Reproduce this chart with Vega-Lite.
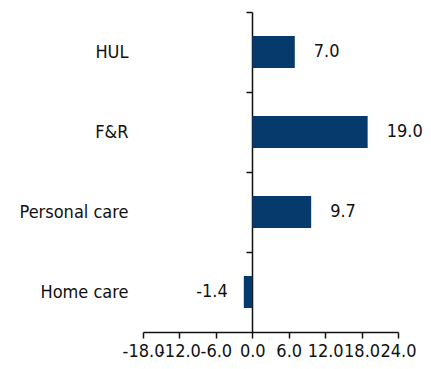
{
  "$schema": "https://vega.github.io/schema/vega-lite/v6.json",
  "width": 255,
  "height": 320,
  "autosize": "none",
  "padding": {"left": 143, "top": 12, "right": 33, "bottom": 37},
  "background": "white",
  "config": {
    "view": {"stroke": null},
    "font": "DejaVu Sans Condensed",
    "locale": {"number": {"decimal": ".", "thousands": ",", "grouping": [3], "currency": ["$", ""], "minus": "-"}},
    "axis": {"labelFont": "DejaVu Sans Condensed", "labelFontSize": 18, "labelColor": "#111111", "domainColor": "#111111", "tickColor": "#111111", "domainWidth": 1.5, "tickWidth": 1.5}
  },
  "data": {
    "values": [
      {"category": "HUL", "value": 7.0},
      {"category": "F&R", "value": 19.0},
      {"category": "Personal care", "value": 9.7},
      {"category": "Home care", "value": -1.4}
    ]
  },
  "encoding": {
    "y": {
      "field": "category", "type": "nominal", "sort": null,
      "scale": {"paddingInner": 0.6, "paddingOuter": 0.3},
      "axis": {"title": null, "offset": -109, "tickOffset": -40, "labelOffset": 40, "tickSize": 6, "labelPadding": 118}
    },
    "x": {
      "field": "value", "type": "quantitative",
      "scale": {"domain": [-18, 24], "nice": false, "zero": false},
      "axis": {"title": null, "values": [-18, -12, -6, 0, 6, 12, 18, 24], "format": ".1f", "grid": false, "tickSize": 6, "labelPadding": 4, "labelOverlap": false, "labelFlush": false}
    }
  },
  "layer": [
    {"mark": {"type": "bar", "color": "#073a6c"}},
    {
      "transform": [{"filter": "datum.value >= 0"}],
      "mark": {"type": "text", "align": "left", "dx": 19, "fontSize": 18, "color": "#111111"},
      "encoding": {"text": {"field": "value", "type": "quantitative", "format": ".1f"}}
    },
    {
      "transform": [{"filter": "datum.value < 0"}],
      "mark": {"type": "text", "align": "right", "dx": -16, "fontSize": 18, "color": "#111111"},
      "encoding": {"text": {"field": "value", "type": "quantitative", "format": ".1f"}}
    }
  ]
}
